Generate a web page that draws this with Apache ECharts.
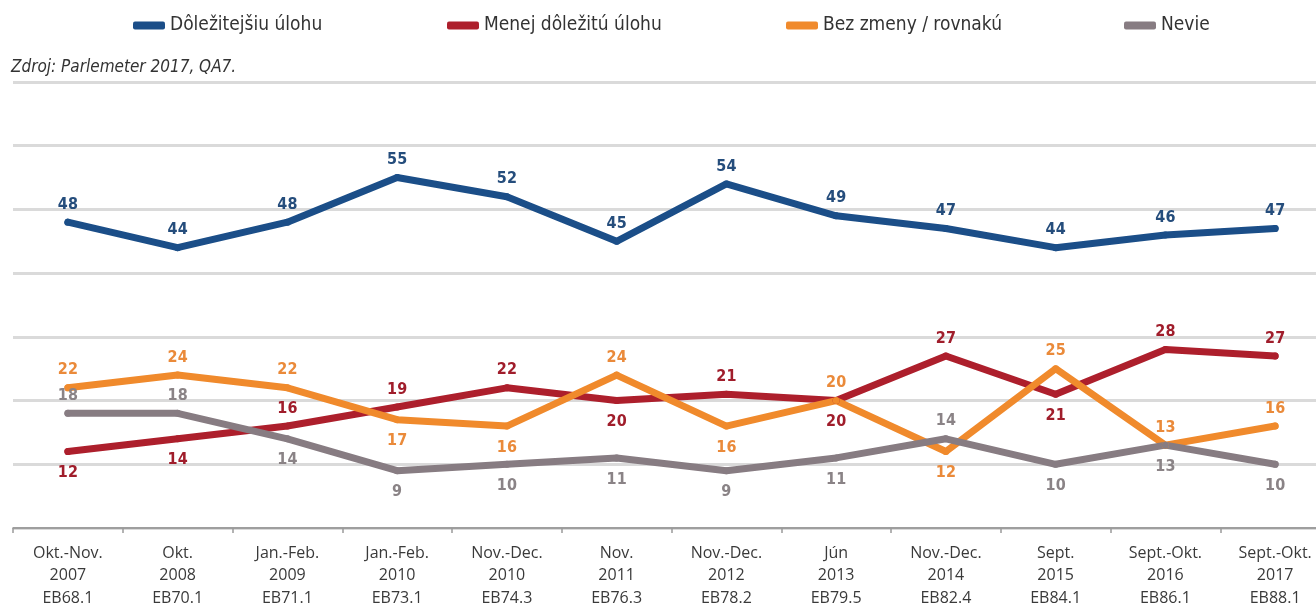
<!DOCTYPE html>
<html>
<head>
<meta charset="utf-8">
<script src="https://cdn.jsdelivr.net/npm/echarts@6/dist/echarts.min.js"></script>
<style>
  html, body { margin: 0; padding: 0; background: #fff; overflow: hidden; }
  #chart { width: 1316px; height: 603px; }
</style>
</head>
<body>
<div id="chart"></div>
<script>
// categories (three-line labels)
const categories = [
  'Okt.-Nov.\n2007\nEB68.1',
  'Okt.\n2008\nEB70.1',
  'Jan.-Feb.\n2009\nEB71.1',
  'Jan.-Feb.\n2010\nEB73.1',
  'Nov.-Dec.\n2010\nEB74.3',
  'Nov.\n2011\nEB76.3',
  'Nov.-Dec.\n2012\nEB78.2',
  'Jún\n2013\nEB79.5',
  'Nov.-Dec.\n2014\nEB82.4',
  'Sept.\n2015\nEB84.1',
  'Sept.-Okt.\n2016\nEB86.1',
  'Sept.-Okt.\n2017\nEB88.1'
];

const moreImportant = [48, 44, 48, 55, 52, 45, 54, 49, 47, 44, 46, 47];
const lessImportant = [12, 14, 16, 19, 22, 20, 21, 20, 27, 21, 28, 27];
const noChange      = [22, 24, 22, 17, 16, 24, 16, 20, 12, 25, 13, 16];
const dontKnow      = [18, 18, 14, 9, 10, 11, 9, 11, 14, 10, 13, 10];

// which point labels sit under the line
const lessBelow   = [0, 1, 5, 7, 9];
const noChgBelow  = [3, 4, 6, 8];
const dontBelow   = [2, 3, 4, 5, 6, 7, 9, 10, 11];

const chart = echarts.init(document.getElementById('chart'));

function points(values, below) {
  return values.map((v, i) => {
    const under = below.includes(i);
    return {
      value: v,
      label: { position: under ? 'bottom' : 'top', distance: under ? 10 : 6 }
    };
  });
}

function makeSeries(name, values, below, color, labelColor) {
  return {
    name: name,
    type: 'line',
    data: points(values, below),
    symbol: 'circle',
    symbolSize: 7,
    lineStyle: { width: 7, color: color, cap: 'round', join: 'round' },
    itemStyle: { color: color },
    label: {
      show: true,
      color: labelColor,
      fontSize: 16,
      fontWeight: 'bold',
      fontFamily: '"DejaVu Sans Condensed", "Liberation Sans Narrow", sans-serif'
    },
    emphasis: { disabled: true }
  };
}

const legendText = {
  fontSize: 19,
  color: '#333',
  fontFamily: '"Liberation Sans Narrow", "DejaVu Sans Condensed", sans-serif'
};

function legendAt(name, left) {
  return {
    data: [name],
    left: left,
    top: 16,
    padding: 0,
    icon: 'roundRect',
    itemWidth: 32,
    itemHeight: 8,
    itemGap: 0,
    textStyle: legendText,
    selectedMode: false
  };
}

const option = {
  animation: false,
  title: {
    text: 'Zdroj: Parlemeter 2017, QA7.',
    left: 11,
    top: 59,
    padding: 0,
    textStyle: {
      fontSize: 17,
      fontWeight: 'normal',
      fontStyle: 'italic',
      color: '#333',
      fontFamily: '"Liberation Sans Narrow", "DejaVu Sans Condensed", sans-serif'
    }
  },
  legend: [
    legendAt('Dôležitejšiu úlohu', 133),
    legendAt('Menej dôležitú úlohu', 447),
    legendAt('Bez zmeny / rovnakú', 786),
    legendAt('Nevie', 1124)
  ],
  // the plot runs past the right edge, as in the cropped original
  grid: { left: 13, top: 82, width: 1317, height: 446, outerBoundsMode: 'none' },
  xAxis: {
    type: 'category',
    data: categories,
    boundaryGap: true,
    axisLine: { lineStyle: { color: '#8a8a8a', width: 1.5 } },
    axisTick: { show: true, interval: 0, length: 5, lineStyle: { color: '#9a9a9a', width: 1.5 } },
    axisLabel: {
      interval: 0,
      margin: 14,
      fontSize: 16,
      lineHeight: 22.5,
      color: '#3a3a3a',
      fontFamily: '"Open Sans", "Noto Sans", sans-serif'
    }
  },
  yAxis: {
    type: 'value',
    min: 0,
    max: 70,
    interval: 10,
    axisLabel: { show: false },
    axisLine: { show: false },
    axisTick: { show: false },
    splitLine: { lineStyle: { color: '#dadada', width: 3 } }
  },
  series: [
    makeSeries('Dôležitejšiu úlohu', moreImportant, [], '#1b4e88', '#254d7c'),
    makeSeries('Menej dôležitú úlohu', lessImportant, lessBelow, '#ad1f2c', '#a01d2b'),
    makeSeries('Bez zmeny / rovnakú', noChange, noChgBelow, '#f08a2c', '#ea8a3a'),
    makeSeries('Nevie', dontKnow, dontBelow, '#877c82', '#8a8386')
  ]
};

chart.setOption(option);
</script>
</body>
</html>
